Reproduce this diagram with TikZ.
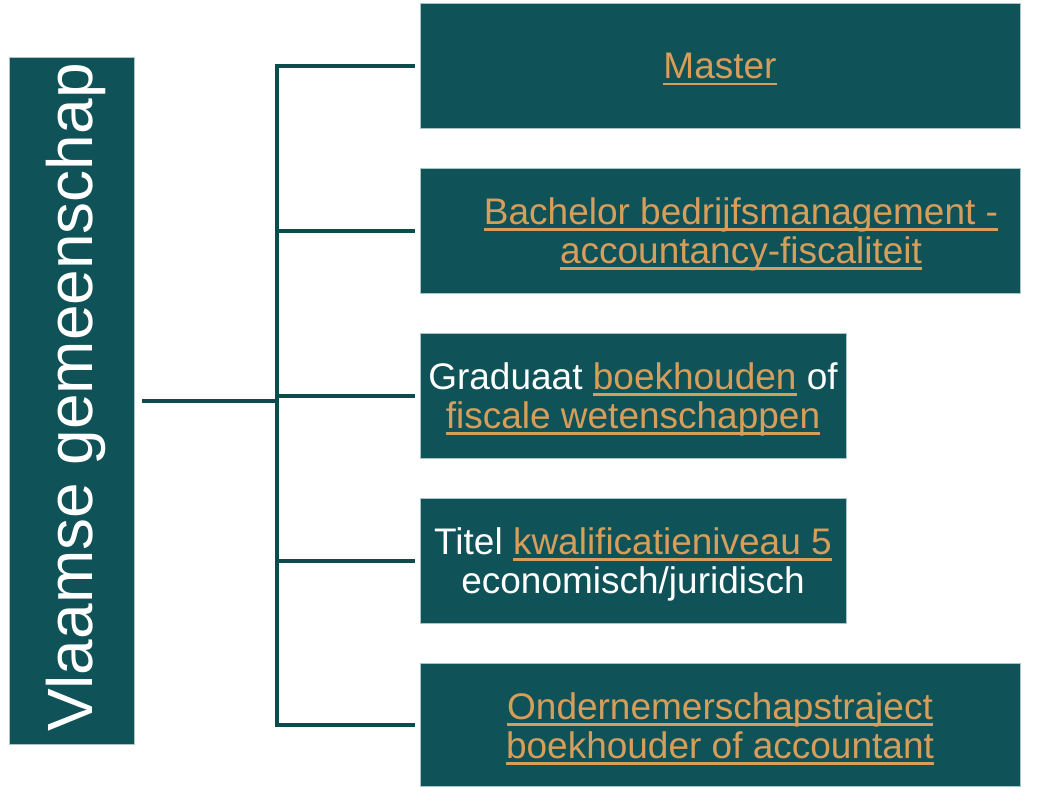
\documentclass[tikz,border=0pt]{standalone}
\usepackage{fontspec}
\setmainfont{Liberation Sans}
\definecolor{teal}{HTML}{0F5257}
\definecolor{conn}{HTML}{0E4B4D}
\definecolor{orn}{HTML}{D69E5A}
\definecolor{edge}{HTML}{A9C4C4}
\newcommand\lnk[1]{\setbox0\hbox{#1}\rlap{\color{orn}\rule[-0.175em]{\wd0}{0.08em}}{\color{orn}#1}}
\begin{document}
\begin{tikzpicture}[x=0.75pt,y=-0.75pt,
  box/.style={rectangle,fill=teal,draw=edge,line width=0.6pt,inner sep=0pt,outer sep=0pt},
  wide/.style={box,minimum width=450pt,minimum height=93.75pt},
  narrow/.style={box,minimum width=319.5pt,minimum height=93.75pt},
  lbl/.style={text=white,align=center,inner sep=0pt,yshift=-3pt,font=\fontsize{27.75pt}{29.25pt}\selectfont},
  connector/.style={draw=conn,line width=3pt,line join=miter}]
\useasboundingbox (0,0) rectangle (1049,786);
\fill[white] (0,0) rectangle (1049,786);
% root
\node[box,minimum width=93.75pt,minimum height=515.25pt] (root) at (71.5,400.5) {};
\node[text=white,inner sep=0pt,anchor=base,rotate=90,font=\fontsize{48pt}{50pt}\selectfont] (roott) at (92,397.5) {Vlaamse gemeenschap};
% children
\node[wide] (b1) at (720,65.5) {};
\node[wide] (b2) at (720,230.5) {};
\node[narrow] (b3) at (633,395.5) {};
\node[narrow] (b4) at (633,560.5) {};
\node[wide,minimum height=92.25pt] (b5) at (720,724.5) {};
\node[lbl] (b1t) at (b1.center) {\lnk{Master}};
\node[lbl] (b2t) at ([xshift=15.75pt]b2.center) {\lnk{Bachelor bedrijfsmanagement -}\\\lnk{accountancy-fiscaliteit}};
\node[lbl] (b3t) at (b3.center) {Graduaat \lnk{boekhouden} of\\\lnk{fiscale wetenschappen}};
\node[lbl] (b4t) at (b4.center) {Titel \lnk{kwalificatieniveau 5}\\economisch/juridisch};
\node[lbl] (b5t) at (b5.center) {\lnk{Ondernemerschapstraject}\\\lnk{boekhouder of accountant}};
% connectors
\coordinate (j) at (277,400.5);
\draw[connector] ([xshift=6pt]root.east) -- (j);
\draw[connector] ([xshift=-4pt]b1.west) -- (j |- b1.west) -- (j |- b5.west) -- ([xshift=-4pt]b5.west);
\draw[connector] (j |- b2.west) -- ([xshift=-4pt]b2.west);
\draw[connector] (j |- b3.west) -- ([xshift=-4pt]b3.west);
\draw[connector] (j |- b4.west) -- ([xshift=-4pt]b4.west);
\end{tikzpicture}
\end{document}
